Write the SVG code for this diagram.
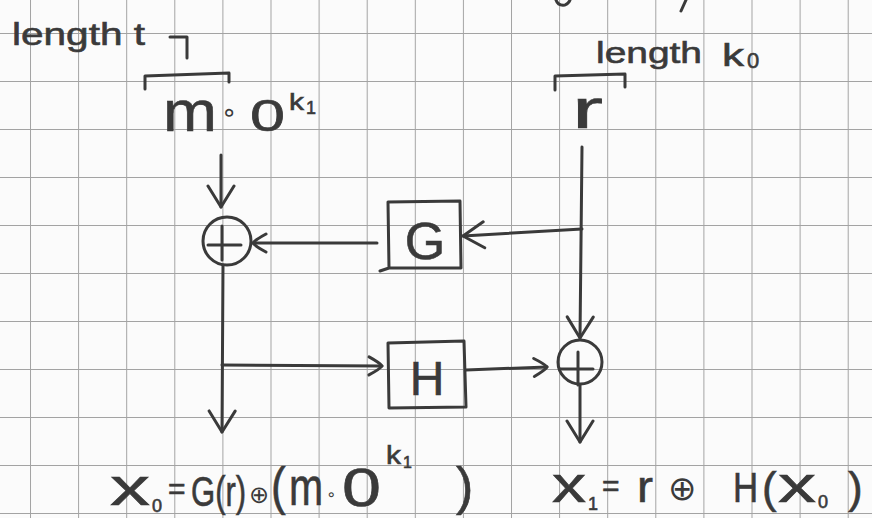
<svg xmlns="http://www.w3.org/2000/svg" width="872" height="518" viewBox="0 0 872 518">
<defs>
<pattern id="grid" patternUnits="userSpaceOnUse" x="30" y="33" width="48.1" height="48">
<path d="M0 0 H48.1 M0 0 V48" fill="none" stroke="#a3a3a3" stroke-width="2"/>
</pattern>
<marker id="vhead" viewBox="-24 -15 28 30" markerWidth="28" markerHeight="30" refX="0" refY="0" orient="auto" markerUnits="userSpaceOnUse">
<path d="M-21,-13 L0,0 L-21,13" fill="none" stroke="#3a3a3a" stroke-width="3" stroke-linecap="round" stroke-linejoin="round"/>
</marker>
<marker id="shead" viewBox="-16 -12 20 24" markerWidth="20" markerHeight="24" refX="0" refY="0" orient="auto" markerUnits="userSpaceOnUse">
<path d="M-13,-9 Q-2,-3 0,0 Q-2,3 -13,9" fill="none" stroke="#3a3a3a" stroke-width="3" stroke-linecap="round" stroke-linejoin="round"/>
</marker>
</defs>
<style>
.ink{fill:none;stroke:#3a3a3a;stroke-width:3;stroke-linecap:round;stroke-linejoin:round}
.t{font-family:"Liberation Sans","DejaVu Sans",sans-serif;fill:#3a3a3a;stroke:#3a3a3a;stroke-width:0.6}
.d{font-family:"DejaVu Sans",sans-serif;stroke-width:0}
</style>
<rect width="872" height="518" fill="#fbfbfb"/>
<rect width="872" height="518" fill="url(#grid)"/>

<g id="top-fragments">
<path class="ink" d="M556 0 Q558 6 565 5 Q569 3 570 0"/>
<path class="ink" d="M686 0 L681 11"/>
</g>

<g id="label-length-t">
<text class="t" x="12" y="45" font-size="32" textLength="133" lengthAdjust="spacingAndGlyphs">length t</text>
<path class="ink" d="M170 37 H187 V58"/>
</g>

<g id="message-input">
<path class="ink" d="M145 89 V76 L229 73 V82"/>
<text class="t" x="163" y="131" font-size="58" textLength="54" lengthAdjust="spacingAndGlyphs">m</text>
<text class="t d" x="221" y="121" font-size="26">∘</text>
<text class="t" x="250" y="131" font-size="44" textLength="35" lengthAdjust="spacingAndGlyphs">0</text>
<text class="t" x="289" y="110" font-size="24" textLength="15" lengthAdjust="spacingAndGlyphs">k</text>
<text class="t" x="306" y="114" font-size="18">1</text>
</g>

<g id="label-length-k0">
<text class="t" x="596" y="63" font-size="30" textLength="106" lengthAdjust="spacingAndGlyphs">length</text>
<text class="t" x="722" y="66" font-size="32" textLength="22" lengthAdjust="spacingAndGlyphs">k</text>
<text class="t" x="747" y="68" font-size="22">0</text>
</g>

<g id="random-input">
<path class="ink" d="M555 90 V76 L625 74 V87"/>
<text class="t" x="572" y="128" font-size="56" textLength="31" lengthAdjust="spacingAndGlyphs">r</text>
</g>

<g id="xor-left">
<circle class="ink" cx="227" cy="241" r="24"/>
<path class="ink" d="M208 245 H241 M222 226 V260"/>
</g>

<g id="G">
<path class="ink" d="M388 202 L460 201 L461 268 L389 268 L388 202 M380 271 L389 268"/>
<text class="t" x="425" y="259" font-size="52" text-anchor="middle">G</text>
</g>

<g id="H">
<path class="ink" d="M388 343 L464 341 L466 407 L389 408 Z"/>
<text class="t" x="427" y="395" font-size="48" text-anchor="middle">H</text>
</g>

<g id="xor-right">
<circle class="ink" cx="580" cy="362" r="22"/>
<path class="ink" d="M560 369 H593 M578 352 V385"/>
</g>

<g id="connectors">
<path class="ink" d="M221 155 L221 207" marker-end="url(#vhead)"/>
<path class="ink" d="M223 265 L222 432" marker-end="url(#vhead)"/>
<path class="ink" d="M222 365 L382 366" marker-end="url(#shead)"/>
<path class="ink" d="M466 370 L547 367" marker-end="url(#shead)"/>
<path class="ink" d="M582 147 L580 338" marker-end="url(#vhead)"/>
<path class="ink" d="M580 385 L580 442" marker-end="url(#vhead)"/>
<path class="ink" d="M582 229 L463 236" marker-end="url(#vhead)"/>
<path class="ink" d="M377 243 L253 243" marker-end="url(#shead)"/>
</g>

<g id="formula-x0">
<text class="t" x="110" y="505" font-size="54" textLength="40" lengthAdjust="spacingAndGlyphs">x</text>
<text class="t" x="152" y="512" font-size="18">0</text>
<text class="t" x="168" y="499" font-size="30">=</text>
<text class="t" transform="translate(191,506) scale(0.74,1)" font-size="42">G(r)</text>
<text class="t d" x="249" y="503" font-size="24">⊕</text>
<text class="t" transform="translate(271,504) scale(0.85,1)" font-size="52">(</text>
<text class="t" transform="translate(289,505) scale(0.76,1)" font-size="54">m</text>
<text class="t d" x="326" y="500" font-size="16">∘</text>
<text class="t" x="342" y="506" font-size="54" textLength="39" lengthAdjust="spacingAndGlyphs">0</text>
<text class="t" x="386" y="464" font-size="26" textLength="15" lengthAdjust="spacingAndGlyphs">k</text>
<text class="t" x="403" y="468" font-size="16">1</text>
<text class="t" x="456" y="504" font-size="52">)</text>
</g>

<g id="formula-x1">
<text class="t" x="552" y="502" font-size="50" textLength="34" lengthAdjust="spacingAndGlyphs">x</text>
<text class="t" x="588" y="510" font-size="18">1</text>
<text class="t" x="602" y="496" font-size="30">=</text>
<text class="t" x="637" y="502" font-size="44" textLength="16" lengthAdjust="spacingAndGlyphs">r</text>
<text class="t d" x="668" y="500" font-size="34">⊕</text>
<text class="t" transform="translate(733,502) scale(0.83,1)" font-size="42">H</text>
<text class="t" x="762" y="503" font-size="44">(</text>
<text class="t" x="778" y="502" font-size="50" textLength="38" lengthAdjust="spacingAndGlyphs">x</text>
<text class="t" x="818" y="508" font-size="18">0</text>
<text class="t" x="848" y="503" font-size="44">)</text>
</g>
</svg>
